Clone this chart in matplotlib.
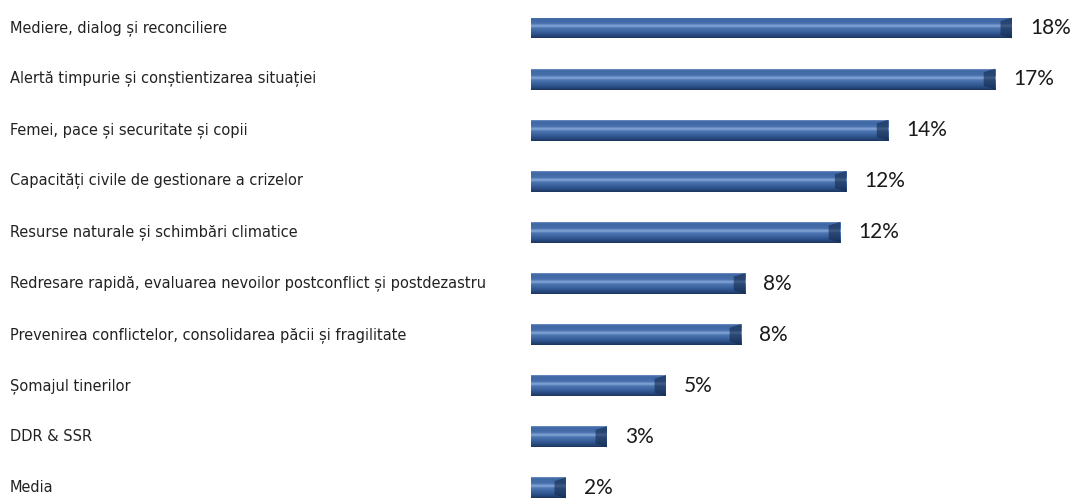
import numpy as np
import matplotlib
matplotlib.use("Agg")
import matplotlib.pyplot as plt
from matplotlib.colors import LinearSegmentedColormap
from matplotlib.patches import Polygon
from matplotlib.transforms import blended_transform_factory

# Topics and their shares (%)
topics = [
    "Mediere, dialog și reconciliere",
    "Alertă timpurie și conștientizarea situației",
    "Femei, pace și securitate și copii",
    "Capacități civile de gestionare a crizelor",
    "Resurse naturale și schimbări climatice",
    "Redresare rapidă, evaluarea nevoilor postconflict și postdezastru",
    "Prevenirea conflictelor, consolidarea păcii și fragilitate",
    "Șomajul tinerilor",
    "DDR & SSR",
    "Media",
]
shares = [18.05, 17.43, 13.5, 11.96, 11.73, 8.24, 8.09, 5.33, 3.16, 1.65]

W, H, DPI = 1078, 504, 100
fig = plt.figure(figsize=(W / DPI, H / DPI), dpi=DPI)
fig.patch.set_facecolor("white")

# axes area starts where the bars start
ax = fig.add_axes([531 / W, 0, (W - 531) / W, 1])
ax.axis("off")
px_per_unit = 27.2
x0 = 10 / px_per_unit  # value axis origin sits a little left of the visible bar start
step = 51.1

bar_h = 0.41
ys = np.arange(len(topics))

# vertical gradient to mimic the bevelled bars
grad_cmap = LinearSegmentedColormap.from_list(
    "bar3d",
    [(0.0, "#6f90c4"), (0.07, "#3f67a4"), (0.3, "#476fac"), (0.42, "#88a9d9"),
     (0.52, "#4d76b2"), (0.8, "#2f5590"), (1.0, "#1c365f")],
)
grad = np.linspace(0, 1, 64).reshape(-1, 1)

widths = [v - x0 for v in shares]
bars = ax.barh(ys, widths, height=bar_h, left=x0, color="#3c64a2",
               edgecolor="none", zorder=2)
for b, y, v in zip(bars, ys, shares):
    im = ax.imshow(grad, cmap=grad_cmap, aspect="auto", zorder=3,
                   extent=[x0, v, y + bar_h / 2, y - bar_h / 2],
                   interpolation="bilinear")
    im.set_clip_path(b)
    # dark bevel at the bar end
    d = 0.42
    bevel = Polygon([[v - d, y - bar_h / 2 + 0.07], [v, y - bar_h / 2],
                     [v, y + bar_h / 2], [v - d, y + bar_h / 2 - 0.07]],
                    closed=True, facecolor="#142a4d", alpha=0.6,
                    edgecolor="none", zorder=4)
    ax.add_patch(bevel)

# limits after imshow, which autoscales
ax.set_xlim(x0, x0 + (W - 531) / px_per_unit)
ax.set_ylim((H - 28) / step, -28 / step)

# value labels
for y, v in zip(ys, shares):
    ax.annotate(f"{v:.0f}%", xy=(v, y), xytext=(13, 0),
                textcoords="offset points", va="center", ha="left",
                fontsize=15, family=["Lato", "DejaVu Sans"], color="#1a1a1a")

# category labels on the left, fitted to the width of the original
trans = blended_transform_factory(fig.transFigure, ax.transData)
texts = []
for y, t in zip(ys, topics):
    texts.append(ax.text(10 / W, y, t, transform=trans, ha="left", va="center",
                         fontsize=16, family="DejaVu Sans", fontstretch="condensed",
                         color="#222222", clip_on=False))
fig.canvas.draw()
renderer = fig.canvas.get_renderer()
widest = max(t.get_window_extent(renderer).width for t in texts)
scale = 480 / widest
for t in texts:
    t.set_fontsize(16 * scale)

fig.savefig("out.png", dpi=DPI, facecolor="white")
